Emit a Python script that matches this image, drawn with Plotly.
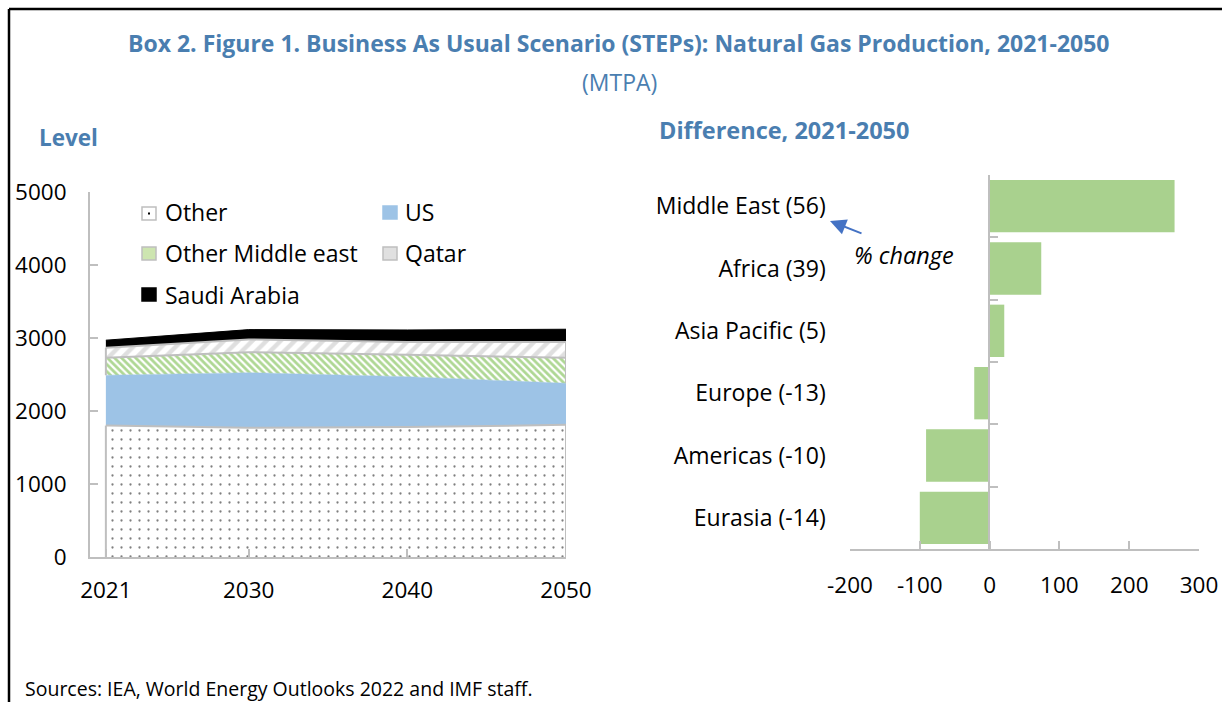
import plotly.graph_objects as go

W, H = 1222, 702

# ---- data ----
years = [2021, 2030, 2040, 2050]
other = [1800, 1770, 1780, 1810]
us = [690, 755, 690, 570]
other_me = [240, 280, 300, 350]
qatar = [135, 175, 175, 215]
saudi = [105, 135, 165, 175]
series_names = ["Other", "US", "Other Middle east", "Qatar", "Saudi Arabia"]

regions = ["Middle East (56)", "Africa (39)", "Asia Pacific (5)", "Europe (-13)",
           "Americas (-10)", "Eurasia (-14)"]
diff = [265, 74, 21, -22, -91, -100]

y_ticks = [0, 1000, 2000, 3000, 4000, 5000]
x2_ticks = [-200, -100, 0, 100, 200, 300]

# ---- style ----
FONT = "Open Sans"
BLUE = "#4A7EB0"
GRAY = "#BFBFBF"
US_BLUE = "#9DC3E6"
BAR_GREEN = "#A9D18E"
HATCH_GREEN = "#5DB028"


def px(x):
    return x / W


def py(y):
    return 1 - y / H


fig = go.Figure()

fig.add_trace(go.Scatter(
    x=years, y=other, name=series_names[0], stackgroup="lv", mode="lines",
    line=dict(color=GRAY, width=2), fillcolor="white",
    fillpattern=dict(shape=".", fgcolor="black", bgcolor="white", size=9, solidity=0.05),
    xaxis="x", yaxis="y", showlegend=False))
fig.add_trace(go.Scatter(
    x=years, y=us, name=series_names[1], stackgroup="lv", mode="lines",
    line=dict(color=US_BLUE, width=0.5), fillcolor=US_BLUE,
    xaxis="x", yaxis="y", showlegend=False))
fig.add_trace(go.Scatter(
    x=years, y=other_me, name=series_names[2], stackgroup="lv", mode="lines",
    line=dict(color=GRAY, width=2), fillcolor="white",
    fillpattern=dict(shape="\\", fgcolor=HATCH_GREEN, bgcolor="white", size=5, solidity=0.55),
    xaxis="x", yaxis="y", showlegend=False))
fig.add_trace(go.Scatter(
    x=years, y=qatar, name=series_names[3], stackgroup="lv", mode="lines",
    line=dict(color=GRAY, width=2), fillcolor="white",
    fillpattern=dict(shape="/", fgcolor=GRAY, bgcolor="white", size=10, solidity=0.45),
    xaxis="x", yaxis="y", showlegend=False))
fig.add_trace(go.Scatter(
    x=years, y=saudi, name=series_names[4], stackgroup="lv", mode="lines",
    line=dict(color="black", width=1), fillcolor="black",
    xaxis="x", yaxis="y", showlegend=False))

# side outlines of the hatched / dotted areas (from the stacked data)
edge_x, edge_y = [], []
for i in (0, -1):
    t1 = other[i]
    t2 = t1 + us[i]
    t3 = t2 + other_me[i]
    t4 = t3 + qatar[i]
    for lo, hi in ((0, t1), (t2, t4)):
        edge_x += [years[i], years[i], None]
        edge_y += [lo, hi, None]
fig.add_trace(go.Scatter(x=edge_x, y=edge_y, mode="lines",
                         line=dict(color=GRAY, width=2), xaxis="x", yaxis="y",
                         showlegend=False, hoverinfo="skip"))

fig.add_trace(go.Bar(
    x=diff, y=regions, orientation="h",
    marker=dict(color=BAR_GREEN, line=dict(width=0)),
    xaxis="x2", yaxis="y2", showlegend=False))

axis_common = dict(showgrid=False, zeroline=False, showline=True, linecolor=GRAY,
                   linewidth=2, ticks="inside", ticklen=8, tickcolor=GRAY, tickwidth=2,
                   automargin=False,
                   tickfont=dict(family=FONT, size=22.5, color="black"))

fig.update_layout(
    width=W, height=H,
    margin=dict(l=0, r=0, t=0, b=0, autoexpand=False),
    paper_bgcolor="white", plot_bgcolor="white",
    font=dict(family=FONT, color="black"),
    bargap=0.16,
    xaxis=dict(domain=[px(90), px(566)], range=[2020, 2050], tickvals=years,
               anchor="y", ticklabelstandoff=12, **axis_common),
    yaxis=dict(domain=[py(557), py(192)], range=[0, 5000], tickvals=y_ticks,
               anchor="x", ticklabelstandoff=17, **axis_common),
    xaxis2=dict(domain=[px(850), px(1199)], range=[-200, 300], tickvals=x2_ticks,
                ticktext=[str(v) for v in x2_ticks],
                anchor="y2", ticklabelstandoff=15, **axis_common),
    yaxis2=dict(domain=[py(549), py(175)], type="category", autorange="reversed",
                anchor="free", position=px(989.3), tickson="boundaries",
                ticklabelstandoff=158, **axis_common),
)
fig.update_yaxes(tickfont_size=23, selector=dict(anchor="free"))

ann = []


def text(x, y, s, size, color="black", xanchor="left", bold=False, italic=False):
    if bold:
        s = "<b>" + s + "</b>"
    if italic:
        s = "<i>" + s + "</i>"
    ann.append(dict(x=px(x), y=py(y), xref="paper", yref="paper", text=s,
                    showarrow=False, xanchor=xanchor, yanchor="middle",
                    font=dict(family=FONT, size=size, color=color)))


text(619, 43, "Box 2. Figure 1. Business As Usual Scenario (STEPs): Natural Gas Production, 2021-2050",
     23, BLUE, "center", bold=True)
text(619, 82, "(MTPA)", 23, BLUE, "center")
text(37, 137, "Level", 22.5, BLUE, bold=True)
text(657, 130, "Difference, 2021-2050", 23.5, BLUE, bold=True)
text(852, 255, "% change", 23.5, italic=True)
text(23, 688, "Sources: IEA, World Energy Outlooks 2022 and IMF staff.", 19.5)

# arrow
ann.append(dict(x=px(830), y=py(221), xref="paper", yref="paper", text="",
                showarrow=True, ax=33, ay=13, arrowcolor="#4472C4", arrowwidth=2,
                arrowhead=2, arrowsize=1.6))

# legend (manual)
shapes = []


def sq(x0, y0, fill, border):
    shapes.append(dict(type="rect", xref="paper", yref="paper",
                       x0=px(x0), x1=px(x0 + 14), y0=py(y0 + 13), y1=py(y0),
                       fillcolor=fill,
                       line=dict(color=border, width=1.5)))


leg = [(142, 207, "white", GRAY, 163, 212, series_names[0]),
       (383, 206, US_BLUE, US_BLUE, 403, 212, series_names[1]),
       (142, 247, "#CDE5B0", GRAY, 163, 253, series_names[2]),
       (383, 247, "#E0E0E0", GRAY, 403, 253, series_names[3]),
       (142, 288, "black", "black", 163, 295, series_names[4])]
for x0, y0, fill, border, tx, ty, name in leg:
    sq(x0, y0, fill, border)
    text(tx, ty, name, 23)
# dot inside "Other" swatch
shapes.append(dict(type="rect", xref="paper", yref="paper", x0=px(148), x1=px(150),
                   y0=py(214.5), y1=py(212.5), fillcolor="black", line=dict(width=0)))

# outer frame lines (top and left)
shapes.append(dict(type="line", xref="paper", yref="paper", x0=px(9), x1=1.0,
                   y0=py(9), y1=py(9), line=dict(color="black", width=2.5)))
shapes.append(dict(type="line", xref="paper", yref="paper", x0=px(9), x1=px(9),
                   y0=py(9), y1=0, line=dict(color="black", width=2.5)))

fig.update_layout(annotations=ann, shapes=shapes)

fig.write_html(
    "out.html",
    config={"displayModeBar": False},
    post_script="document.body.style.margin='0px';document.body.style.overflow='hidden';",
)
